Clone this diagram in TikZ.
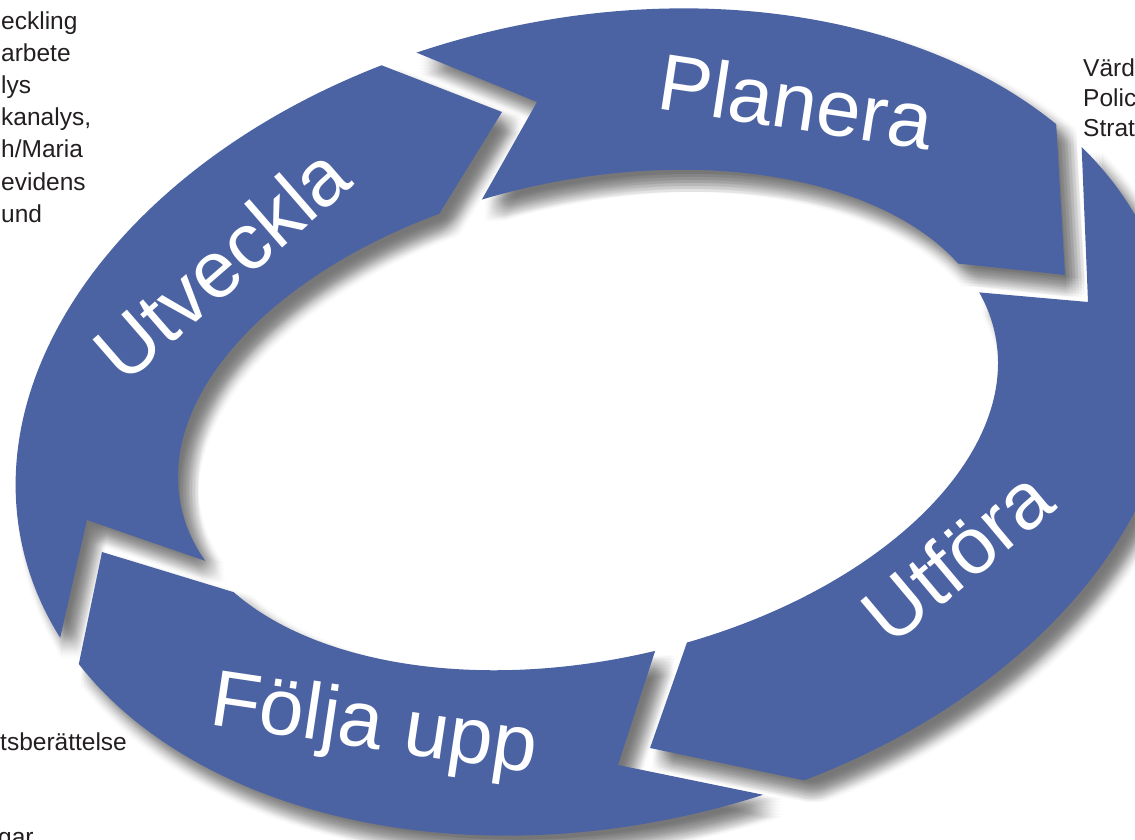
\documentclass[tikz,border=0pt]{standalone}
\usepackage{fontspec}
\setmainfont{Liberation Sans}
\definecolor{ringblue}{RGB}{76,99,163}
\definecolor{sidetext}{RGB}{35,31,32}
\tikzset{
  seglabel/.style={text=white, inner sep=0pt, font=\fontsize{80}{96}\selectfont},
  sidelabel/.style={text=sidetext, inner sep=0pt, anchor=base west, font=\fontsize{24.5}{30}\selectfont},
}
\def\ringshape{(595,422) circle[x radius=586pt, y radius=404pt, rotate=12] (588,420) circle[x radius=416pt, y radius=240pt, rotate=12]}
\def\gapshapes{(354,27) -- (537,102) -- (454,249) -- (409,263) -- (502,112) -- (319,41) -- cycle
  (1080,107) -- (1088,302) -- (918,287) -- (897,257) -- (1065,275) -- (1054,87) -- cycle
  (673,596) -- (618,765) -- (813,805) -- (855,791) -- (650,748) -- (705,591) -- cycle
  (46,700) -- (87,520) -- (252,577) -- (279,606) -- (102,552) -- (66,726) -- cycle}
\begin{document}
\begin{tikzpicture}[x=1pt,y=-1pt]
\useasboundingbox (0,0) rectangle (1135,839);
% soft drop shadow of the segmented ring
\foreach \dx in {2,5,8,11,14,17,20}{
  \foreach \dy in {4,7,10,13,16,19,22}{
    \begin{scope}[shift={(\dx,\dy)}, even odd rule]
      \clip (-300,-300) rectangle (1500,1200) \gapshapes;
      \fill[black, fill opacity=0.014] \ringshape;
    \end{scope}
  }
}
% the four ring segments
\begin{scope}[even odd rule]
  \clip (-300,-300) rectangle (1500,1200) \gapshapes;
  \fill[ringblue] \ringshape;
\end{scope}
% segment labels
\node[seglabel, rotate=-8.6] (planera) at (796,101) {Planera};
\node[seglabel, rotate=41] (utveckla) at (221,263) {Utveckla};
\node[seglabel, rotate=40] (utfora) at (957,556) {Utföra};
\node[seglabel, rotate=-8.5] (foljaupp) at (374,728) {Följa upp};
% side texts (cut by the picture edge)
\node[sidelabel] (l1) at (1,29) {eckling};
\node[sidelabel] (l2) at (1,61.2) {arbete};
\node[sidelabel] (l3) at (1,93.4) {lys};
\node[sidelabel] (l4) at (1,125.6) {kanalys,};
\node[sidelabel] (l5) at (1,157.8) {h/Maria};
\node[sidelabel] (l6) at (1,190) {evidens};
\node[sidelabel] (l7) at (1,222.2) {und};
\node[sidelabel] (r1) at (1083,76.7) {Värd};
\node[sidelabel] (r2) at (1083,106.7) {Polic};
\node[sidelabel] (r3) at (1083,136.7) {Strat};
\node[sidelabel] (b1) at (0,750) {tsberättelse};
\node[sidelabel] (b2) at (-2,845) {gar};
\end{tikzpicture}
\end{document}
